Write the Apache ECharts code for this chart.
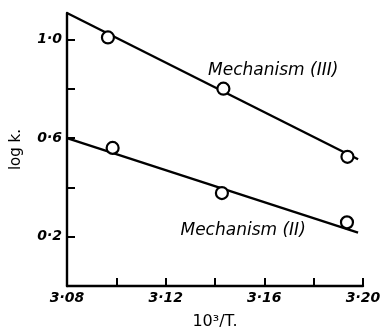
<!DOCTYPE html>
<html><head><meta charset="utf-8">
<script src="https://cdn.jsdelivr.net/npm/echarts@6/dist/echarts.min.js"></script>
<style>html,body{margin:0;padding:0;background:#fff}#c{width:383px;height:336px}</style>
</head><body><div id="c"></div>
<script>
// data points (10^3/T, log k)
const mech3Points = [[3.0966, 1.008], [3.1434, 0.800], [3.1937, 0.524]];
const mech2Points = [[3.0985, 0.560], [3.1428, 0.377], [3.1935, 0.258]];
// fitted lines (endpoints)
const mech3Line = [[3.08, 1.107], [3.198, 0.514]];
const mech2Line = [[3.08, 0.600], [3.198, 0.216]];
// annotation labels
const labelNames = ['Mechanism (III)', 'Mechanism (II)'];
const labelPos = [[3.1636, 0.875], [3.1514, 0.2245]];
const xLabels = ['3.08', '3.12', '3.16', '3.20'];
const yLabels = ['0.2', '0.6', '1.0'];

const fmt = s => s.replace('.', '\u00b7');
const chart = echarts.init(document.getElementById('c'));
const lineStyle = {color: '#000', width: 2.4, opacity: 1};
const ptStyle = {color: '#fff', borderColor: '#000', borderWidth: 2.2, opacity: 1};
chart.setOption({
  animation: false,
  grid: {left: 67, right: 20, top: 13, bottom: 50, containLabel: false, outerBoundsMode: 'none'},
  xAxis: {
    type: 'value', min: 3.08, max: 3.20, interval: 0.02,
    name: '10\u00b3/T.', nameLocation: 'middle', nameGap: 28,
    nameTextStyle: {fontFamily: 'DejaVu Sans', fontSize: 16, color: '#000'},
    axisLine: {lineStyle: {color: '#000', width: 2.4}},
    axisTick: {inside: true, length: 8, lineStyle: {color: '#000', width: 2}},
    splitLine: {show: false},
    axisLabel: {
      margin: 5, color: '#000', fontFamily: 'DejaVu Sans', fontStyle: 'italic', fontWeight: 'bold', fontSize: 14,
      formatter: v => { const s = v.toFixed(2); return xLabels.includes(s) ? fmt(s) : ''; }
    }
  },
  yAxis: {
    type: 'value', min: 0, max: 1.107, interval: 0.2,
    name: 'log k.', nameLocation: 'middle', nameGap: 43, nameRotate: 90,
    nameTextStyle: {fontFamily: 'DejaVu Sans', fontSize: 15, color: '#000'},
    axisLine: {lineStyle: {color: '#000', width: 2.4}},
    axisTick: {inside: true, length: 8, lineStyle: {color: '#000', width: 2}},
    splitLine: {show: false},
    axisLabel: {
      margin: 5, color: '#000', fontFamily: 'DejaVu Sans', fontStyle: 'italic', fontWeight: 'bold', fontSize: 14,
      showMaxLabel: false,
      formatter: v => { const s = v.toFixed(1); return yLabels.includes(s) ? fmt(s) : ''; }
    }
  },
  series: [
    {type: 'line', data: mech3Line, symbol: 'none', lineStyle, z: 2},
    {type: 'line', data: mech2Line, symbol: 'none', lineStyle, z: 2},
    {type: 'scatter', data: mech3Points, symbol: 'circle', symbolSize: 12, itemStyle: ptStyle, z: 3},
    {type: 'scatter', data: mech2Points, symbol: 'circle', symbolSize: 12, itemStyle: ptStyle, z: 3},
    {type: 'scatter', symbolSize: 0, silent: true, itemStyle: {opacity: 1},
     data: labelPos.map((p, i) => ({value: p, name: labelNames[i]})),
     label: {show: true, position: 'inside', formatter: '{b}', color: '#000',
       fontFamily: 'DejaVu Sans', fontStyle: 'italic', fontSize: 17}}
  ]
});
</script></body></html>
